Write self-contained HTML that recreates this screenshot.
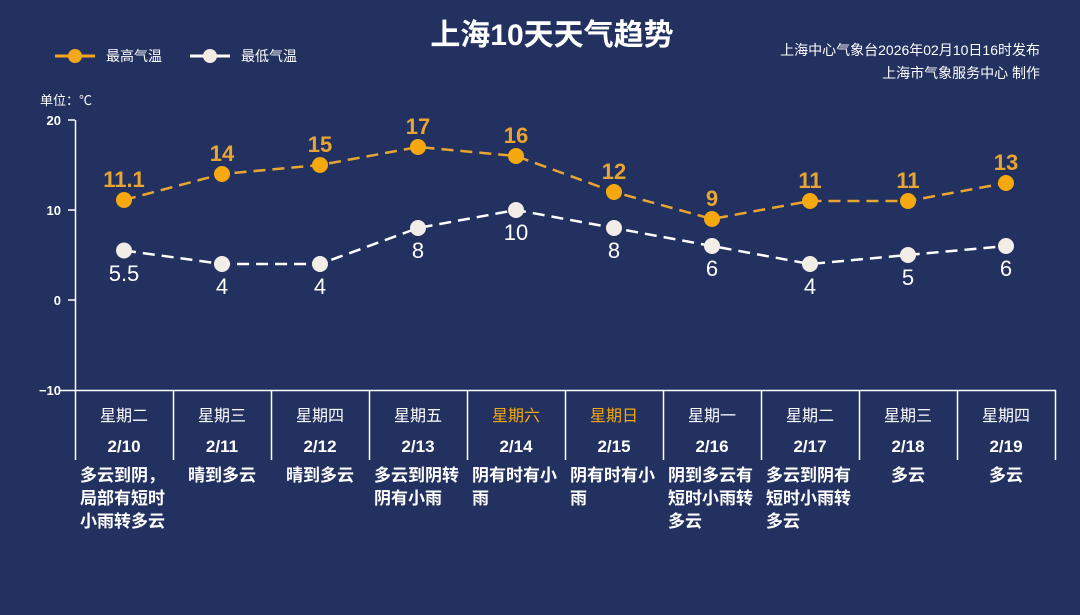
<!DOCTYPE html>
<html><head><meta charset="utf-8"><style>
body{margin:0;background:#22315f;width:1080px;height:610px;overflow:hidden}
svg text{font-family:"Liberation Sans","Noto Sans CJK SC",sans-serif}
</style></head><body>
<svg width="1080" height="610" xmlns="http://www.w3.org/2000/svg">
<rect width="1080" height="610" fill="#22315f"/>
<text x="552" y="45" text-anchor="middle" fill="#fff" font-size="30" font-weight="bold">上海10天天气趋势</text>
<text x="1040" y="55" text-anchor="end" fill="#fff" font-size="14">上海中心气象台2026年02月10日16时发布</text>
<text x="1040" y="78" text-anchor="end" fill="#fff" font-size="14">上海市气象服务中心  制作</text>
<line x1="55" y1="56" x2="95" y2="56" stroke="#f2a81d" stroke-width="3"/><circle cx="75" cy="56" r="7" fill="#f2a81d"/>
<text x="106" y="61" fill="#fff" font-size="14">最高气温</text>
<line x1="190" y1="56" x2="230" y2="56" stroke="#fff" stroke-width="3"/><circle cx="210" cy="56" r="7" fill="#f3ece4"/>
<text x="241" y="61" fill="#fff" font-size="14">最低气温</text>
<text x="40" y="105" fill="#fff" font-size="13">单位：℃</text>
<g stroke="#fff" stroke-width="1.5">
<line x1="75.5" y1="120" x2="75.5" y2="460"/>
<line x1="68" y1="120" x2="75" y2="120"/><line x1="68" y1="210" x2="75" y2="210"/><line x1="68" y1="300" x2="75" y2="300"/>
<line x1="60" y1="390.5" x2="1056" y2="390.5"/>
<line x1="173.5" y1="390" x2="173.5" y2="460"/><line x1="271.5" y1="390" x2="271.5" y2="460"/><line x1="369.5" y1="390" x2="369.5" y2="460"/><line x1="467.5" y1="390" x2="467.5" y2="460"/><line x1="565.5" y1="390" x2="565.5" y2="460"/><line x1="663.5" y1="390" x2="663.5" y2="460"/><line x1="761.5" y1="390" x2="761.5" y2="460"/><line x1="859.5" y1="390" x2="859.5" y2="460"/><line x1="957.5" y1="390" x2="957.5" y2="460"/><line x1="1055.5" y1="390" x2="1055.5" y2="460"/>
</g>
<g fill="#fff" font-size="13" font-weight="bold" text-anchor="end">
<text x="61" y="125">20</text><text x="61" y="215">10</text><text x="61" y="305">0</text><text x="61" y="395">−10</text>
</g>
<polyline points="124,200 222,174 320,165 418,147 516,156 614,192 712,219 810,201 908,201 1006,183" fill="none" stroke="#e9a532" stroke-width="2.5" stroke-dasharray="12,7"/>
<polyline points="124,250.5 222,264 320,264 418,228 516,210 614,228 712,246 810,264 908,255 1006,246" fill="none" stroke="#fff" stroke-width="2.5" stroke-dasharray="12,7"/>
<g fill="#f5a80f">
<circle cx="124" cy="200" r="8"/><circle cx="222" cy="174" r="8"/><circle cx="320" cy="165" r="8"/><circle cx="418" cy="147" r="8"/><circle cx="516" cy="156" r="8"/><circle cx="614" cy="192" r="8"/><circle cx="712" cy="219" r="8"/><circle cx="810" cy="201" r="8"/><circle cx="908" cy="201" r="8"/><circle cx="1006" cy="183" r="8"/>
</g>
<g fill="#f2ede6">
<circle cx="124" cy="250.5" r="8"/><circle cx="222" cy="264" r="8"/><circle cx="320" cy="264" r="8"/><circle cx="418" cy="228" r="8"/><circle cx="516" cy="210" r="8"/><circle cx="614" cy="228" r="8"/><circle cx="712" cy="246" r="8"/><circle cx="810" cy="264" r="8"/><circle cx="908" cy="255" r="8"/><circle cx="1006" cy="246" r="8"/>
</g>
<g fill="#e9a532" font-size="22" font-weight="bold" text-anchor="middle">
<text x="124" y="187">11.1</text><text x="222" y="161">14</text><text x="320" y="152">15</text><text x="418" y="134">17</text><text x="516" y="143">16</text><text x="614" y="179">12</text><text x="712" y="206">9</text><text x="810" y="188">11</text><text x="908" y="188">11</text><text x="1006" y="170">13</text>
</g>
<g fill="#fff" font-size="22" text-anchor="middle">
<text x="124" y="281">5.5</text><text x="222" y="294">4</text><text x="320" y="294">4</text><text x="418" y="258">8</text><text x="516" y="240">10</text><text x="614" y="258">8</text><text x="712" y="276">6</text><text x="810" y="294">4</text><text x="908" y="285">5</text><text x="1006" y="276">6</text>
</g>
<g fill="#fff" font-size="16" text-anchor="middle">
<text x="124" y="421">星期二</text><text x="222" y="421">星期三</text><text x="320" y="421">星期四</text><text x="418" y="421">星期五</text><text x="516" y="421" fill="#f5a80f">星期六</text><text x="614" y="421" fill="#f5a80f">星期日</text><text x="712" y="421">星期一</text><text x="810" y="421">星期二</text><text x="908" y="421">星期三</text><text x="1006" y="421">星期四</text>
</g>
<g fill="#fff" font-size="17" font-weight="bold" text-anchor="middle">
<text x="124" y="452">2/10</text><text x="222" y="452">2/11</text><text x="320" y="452">2/12</text><text x="418" y="452">2/13</text><text x="516" y="452">2/14</text><text x="614" y="452">2/15</text><text x="712" y="452">2/16</text><text x="810" y="452">2/17</text><text x="908" y="452">2/18</text><text x="1006" y="452">2/19</text>
</g>
<g fill="#fff" font-size="17" font-weight="bold">
<text x="80" y="481">多云到阴，</text><text x="80" y="504">局部有短时</text><text x="80" y="527">小雨转多云</text>
<text x="188" y="481">晴到多云</text>
<text x="286" y="481">晴到多云</text>
<text x="374" y="481">多云到阴转</text><text x="374" y="504">阴有小雨</text>
<text x="472" y="481">阴有时有小</text><text x="472" y="504">雨</text>
<text x="570" y="481">阴有时有小</text><text x="570" y="504">雨</text>
<text x="668" y="481">阴到多云有</text><text x="668" y="504">短时小雨转</text><text x="668" y="527">多云</text>
<text x="766" y="481">多云到阴有</text><text x="766" y="504">短时小雨转</text><text x="766" y="527">多云</text>
<text x="891" y="481">多云</text>
<text x="989" y="481">多云</text>
</g>
</svg>
</body></html>
